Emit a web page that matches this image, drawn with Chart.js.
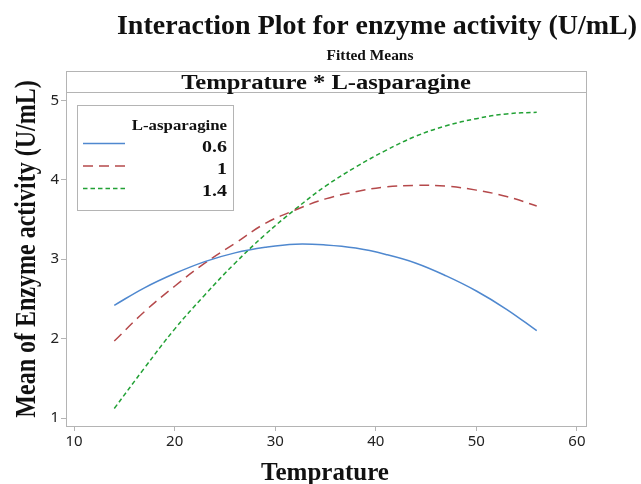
<!DOCTYPE html>
<html><head><meta charset="utf-8">
<script src="https://cdn.jsdelivr.net/npm/chart.js@4"></script>
<style>html,body{margin:0;padding:0;background:#fff}canvas{display:block}</style>
</head><body>
<canvas id="c" width="641" height="484"></canvas>
<script>
const temperature = [14,17,20,23,26,29,32,35,38,41,44,47,50,53,56];
const seriesNames = ['0.6','1','1.4'];
const asp06 = [2.42,2.64,2.82,2.97,3.08,3.15,3.19,3.18,3.14,3.06,2.95,2.79,2.60,2.37,2.10];
const asp10 = [1.97,2.34,2.66,2.95,3.20,3.45,3.62,3.76,3.85,3.91,3.93,3.92,3.87,3.79,3.67];
const asp14 = [1.12,1.63,2.12,2.55,2.95,3.31,3.63,3.92,4.16,4.37,4.55,4.68,4.77,4.83,4.85];
const xTicks = [10,20,30,40,50,60];
const yTicks = [1,2,3,4,5];

const SERIF = '"Liberation Serif","Times New Roman",serif';
const SANS = '"Noto Sans","Open Sans",sans-serif';

const pts = arr => temperature.map((t,i)=>({x:t,y:arr[i]}));

function stretchText(ctx, text, x, y, sx){
  ctx.save(); ctx.translate(x, y); ctx.scale(sx, 1); ctx.fillText(text, 0, 0); ctx.restore();
}

const deco = {
  id:'deco',
  afterDraw(chart){
    const ctx = chart.ctx, a = chart.chartArea;
    ctx.save();
    ctx.strokeStyle = '#b4b4b4'; ctx.lineWidth = 1;
    ctx.strokeRect(a.left+0.5, a.top+0.5, a.right-a.left, a.bottom-a.top);
    ctx.beginPath(); ctx.moveTo(a.left, a.top+21.5); ctx.lineTo(a.right, a.top+21.5); ctx.stroke();
    ctx.fillStyle = '#111';
    ctx.textAlign = 'center'; ctx.textBaseline = 'alphabetic';
    ctx.font = 'bold 20px '+SERIF;
    stretchText(ctx, 'Temprature * L-asparagine', (a.left+a.right)/2, 89, 1.23);
    ctx.font = 'bold 28px '+SERIF;
    ctx.fillText('Interaction Plot for enzyme activity (U/mL)', 377, 34);
    ctx.font = 'bold 14px '+SERIF;
    stretchText(ctx, 'Fitted Means', 370, 60, 1.1);
    ctx.font = 'bold 25px '+SERIF;
    ctx.fillText('Temprature', 325, 480);
    ctx.save();
    ctx.translate(35, 249); ctx.scale(1.2, 1); ctx.rotate(-Math.PI/2);
    ctx.font = 'bold 24px '+SERIF;
    ctx.fillText('Mean of Enzyme activity (U/mL)', 0, 0);
    ctx.restore();
    // legend
    const lx = 77, ly = 105, lw = 156, lh = 105;
    ctx.fillStyle = '#fff'; ctx.fillRect(lx, ly, lw, lh);
    ctx.strokeStyle = '#b4b4b4'; ctx.strokeRect(lx+0.5, ly+0.5, lw, lh);
    ctx.fillStyle = '#111'; ctx.textAlign = 'right';
    ctx.font = 'bold 14px '+SERIF;
    stretchText(ctx, 'L-asparagine', 227, 130, 1.2);
    ctx.font = 'bold 16px '+SERIF;
    chart.data.datasets.forEach((ds,i)=>{
      const yl = 143.5 + i*22.5;
      ctx.strokeStyle = ds.borderColor; ctx.lineWidth = ds.borderWidth;
      ctx.setLineDash(ds.borderDash || []);
      ctx.beginPath(); ctx.moveTo(83, yl); ctx.lineTo(125, yl); ctx.stroke();
      ctx.setLineDash([]);
      ctx.fillStyle = '#111';
      stretchText(ctx, ds.label, 227, 152 + i*22, 1.25);
    });
    ctx.restore();
  }
};

new Chart(document.getElementById('c'), {
  type:'line',
  data:{datasets:[
    {label:seriesNames[0], data:pts(asp06), borderColor:'#4f88cf', borderWidth:1.5, pointRadius:0, tension:0.4, fill:false},
    {label:seriesNames[1], data:pts(asp10), borderColor:'#b5494b', borderWidth:1.5, borderDash:[10,6], pointRadius:0, tension:0.4, fill:false},
    {label:seriesNames[2], data:pts(asp14), borderColor:'#22a135', borderWidth:1.5, borderDash:[4.5,3], pointRadius:0, tension:0.4, fill:false}
  ]},
  options:{
    responsive:false, animation:false,
    layout:{padding:{top:71, right:55, left:0, bottom:0}},
    plugins:{legend:{display:false}, title:{display:false}, tooltip:{enabled:false}},
    scales:{
      x:{type:'linear', min:9.2, max:60.9,
        afterBuildTicks(s){ s.ticks = xTicks.map(v=>({value:v})); },
        afterFit(s){ s.height = 58; },
        grid:{drawOnChartArea:false, drawTicks:true, tickLength:5, color:'#b4b4b4'},
        border:{color:'#b4b4b4'},
        ticks:{padding:2, color:'#222', font:{family:SANS, size:15}}
      },
      y:{type:'linear', min:0.9, max:5.37,
        afterBuildTicks(s){ s.ticks = yTicks.map(v=>({value:v})); },
        afterFit(s){ s.width = 66; },
        grid:{drawOnChartArea:false, drawTicks:true, tickLength:5, color:'#b4b4b4'},
        border:{color:'#b4b4b4'},
        ticks:{padding:2, color:'#222', font:{family:SANS, size:15}}
      }
    }
  },
  plugins:[deco]
});
</script>
</body></html>
